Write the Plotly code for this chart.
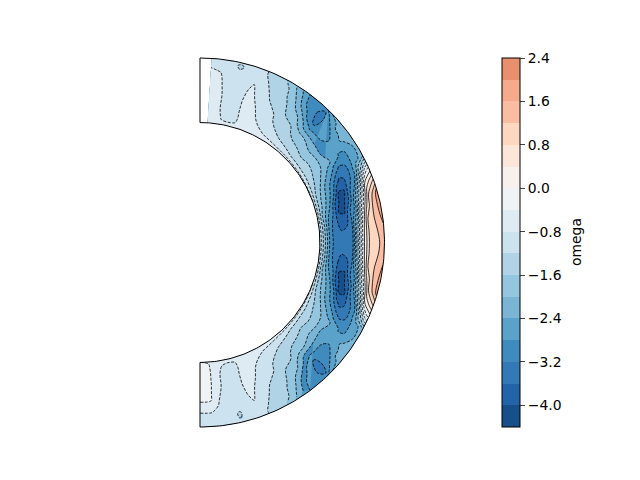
import numpy as np
import plotly.graph_objects as go

radius = [.65,.66,.68,.71,.74,.77,.80,.83,.86,.89,.92,.95,.98,1.0]
latitude = [86.4,83,80,77,74,71,68,64,60,56,52,48,46,44,40,36,32,28,24,20,16,12,8,4,0,
            -4,-8,-12,-16,-20,-24,-28,-32,-36,-40,-44,-46,-48,-52,-56,-60,-64,-68,-71,-74,-77,-80,-83,-86,-90]
omega = [
[-.60,-.60,-.60,-.60,-.60,-.60,-.60,-.62,-.65,-.68,-.72,-.80,-.92,-.95],
[-.65,-.68,-.68,-.70,-.72,-.72,-.72,-.72,-.74,-.75,-.78,-.85,-.95,-.95],
[-.65,-.75,-.82,-.86,-.88,-.88,-.88,-.90,-.92,-.95,-.98,-1.00,-1.05,-1.05],
[-.65,-.76,-.85,-.90,-.92,-.93,-.94,-.95,-.98,-1.02,-1.06,-1.15,-1.27,-1.12],
[-.65,-.75,-.82,-.85,-.85,-.85,-.85,-.88,-.90,-.95,-1.00,-1.05,-1.10,-1.10],
[-.60,-.62,-.70,-.68,-.62,-.60,-.60,-.62,-.68,-.75,-.85,-1.00,-1.10,-1.10],
[-.55,-.58,-.62,-.65,-.70,-.75,-.80,-.90,-1.00,-1.05,-1.10,-1.15,-1.20,-1.20],
[-.55,-.60,-.70,-.80,-.90,-.95,-1.00,-1.10,-1.20,-1.25,-1.30,-1.35,-1.40,-1.45],
[-.55,-.65,-.80,-.95,-1.05,-1.15,-1.20,-1.30,-1.35,-1.40,-1.50,-1.55,-1.65,-1.70],
[-.55,-.70,-.90,-1.10,-1.25,-1.40,-1.50,-1.60,-1.70,-1.80,-1.95,-2.10,-2.25,-2.40],
[-.55,-.75,-1.00,-1.25,-1.40,-1.50,-1.60,-1.80,-2.00,-2.30,-2.65,-2.90,-3.00,-3.00],
[-.55,-.80,-1.10,-1.35,-1.55,-1.75,-1.95,-2.35,-2.60,-3.10,-3.18,-3.20,-3.10,-2.95],
[-.55,-.82,-1.15,-1.40,-1.60,-1.80,-2.00,-2.45,-2.90,-3.25,-3.30,-3.30,-3.25,-2.80],
[-.60,-.85,-1.20,-1.45,-1.65,-1.85,-2.05,-2.50,-2.85,-3.05,-3.12,-3.10,-2.75,-2.40],
[-.60,-.90,-1.25,-1.55,-1.80,-2.00,-2.25,-2.55,-2.80,-2.95,-2.80,-2.45,-2.25,-2.15],
[-.60,-.95,-1.30,-1.50,-1.70,-1.95,-2.25,-2.78,-2.65,-2.60,-2.45,-2.35,-2.25,-2.20],
[-.65,-1.00,-1.30,-1.55,-1.80,-2.00,-2.20,-2.40,-2.60,-2.85,-2.85,-2.60,-2.40,-2.25],
[-.70,-1.05,-1.40,-1.70,-2.00,-2.35,-2.65,-3.05,-3.35,-3.20,-2.85,-2.60,-2.30,-2.00],
[-.75,-1.10,-1.55,-1.95,-2.40,-2.80,-3.30,-3.75,-3.55,-3.20,-2.75,-1.60,-.60,-.35],
[-.80,-1.20,-1.75,-2.20,-2.60,-3.15,-4.02,-4.02,-3.30,-2.80,-1.50,.00,.55,.85],
[-.90,-1.25,-1.85,-2.40,-2.95,-3.85,-4.20,-3.80,-3.00,-1.80,-.50,.80,1.40,1.85],
[-.90,-1.30,-2.05,-2.75,-3.25,-4.00,-4.05,-3.25,-2.70,-1.00,.30,1.10,1.55,1.85],
[-.90,-1.30,-2.00,-3.00,-3.40,-3.80,-3.75,-3.25,-2.00,-.40,.85,1.15,1.50,1.70],
[-.90,-1.30,-2.00,-3.05,-3.45,-3.55,-3.45,-3.20,-1.50,-.10,.85,1.05,1.35,1.50],
[-.90,-1.30,-2.00,-3.05,-3.40,-3.50,-3.40,-3.20,-1.50,-.05,.85,1.00,1.25,1.35],
[-.90,-1.30,-2.00,-3.05,-3.45,-3.55,-3.45,-3.20,-1.50,-.10,.85,1.05,1.30,1.45],
[-.90,-1.30,-2.00,-3.00,-3.40,-3.80,-3.75,-3.25,-2.00,-.40,.85,1.15,1.45,1.65],
[-.90,-1.30,-2.05,-2.75,-3.25,-4.00,-4.05,-3.25,-2.70,-1.00,.30,1.10,1.50,1.80],
[-.90,-1.25,-1.85,-2.40,-2.95,-3.85,-4.20,-3.80,-3.00,-1.80,-.50,.80,1.40,1.80],
[-.80,-1.20,-1.75,-2.20,-2.60,-3.15,-4.02,-4.02,-3.30,-2.80,-1.50,.00,.55,.85],
[-.75,-1.10,-1.55,-1.95,-2.40,-2.80,-3.30,-3.75,-3.55,-3.20,-2.75,-1.60,-.60,-.35],
[-.70,-1.05,-1.40,-1.70,-2.00,-2.35,-2.65,-3.05,-3.35,-3.20,-2.85,-2.60,-2.30,-2.00],
[-.65,-1.00,-1.30,-1.55,-1.80,-2.00,-2.20,-2.40,-2.60,-2.85,-2.85,-2.60,-2.40,-2.25],
[-.60,-.95,-1.30,-1.50,-1.70,-1.95,-2.25,-2.78,-2.65,-2.60,-2.45,-2.35,-2.25,-2.20],
[-.60,-.90,-1.25,-1.55,-1.80,-2.00,-2.25,-2.55,-2.80,-2.95,-2.80,-2.45,-2.25,-2.15],
[-.60,-.85,-1.20,-1.45,-1.65,-1.85,-2.05,-2.50,-2.85,-3.05,-3.12,-3.10,-2.75,-2.40],
[-.55,-.82,-1.15,-1.40,-1.60,-1.80,-2.00,-2.45,-2.90,-3.25,-3.30,-3.30,-3.25,-2.80],
[-.55,-.80,-1.10,-1.35,-1.55,-1.75,-1.95,-2.35,-2.60,-3.10,-3.18,-3.20,-3.10,-2.95],
[-.55,-.75,-1.00,-1.25,-1.40,-1.50,-1.60,-1.80,-2.00,-2.30,-2.65,-2.90,-3.00,-3.00],
[-.55,-.70,-.90,-1.10,-1.25,-1.40,-1.50,-1.60,-1.70,-1.80,-1.95,-2.10,-2.25,-2.40],
[-.55,-.65,-.80,-.95,-1.05,-1.15,-1.20,-1.30,-1.35,-1.40,-1.50,-1.55,-1.65,-1.70],
[-.55,-.60,-.70,-.80,-.90,-.95,-1.00,-1.10,-1.20,-1.25,-1.30,-1.35,-1.40,-1.45],
[-.55,-.58,-.62,-.65,-.70,-.75,-.80,-.90,-1.00,-1.05,-1.10,-1.15,-1.20,-1.20],
[-.60,-.62,-.70,-.68,-.62,-.60,-.60,-.62,-.68,-.75,-.85,-1.00,-1.10,-1.10],
[-.65,-.75,-.82,-.85,-.85,-.85,-.85,-.88,-.90,-.95,-1.00,-1.05,-1.10,-1.10],
[-.65,-.76,-.85,-.90,-.92,-.93,-.94,-.95,-.98,-1.02,-1.08,-1.25,-1.21,-1.12],
[-.65,-.72,-.80,-.85,-.86,-.86,-.86,-.88,-.92,-.95,-.98,-1.00,-1.05,-1.05],
[-.60,-.65,-.70,-.72,-.74,-.74,-.76,-.78,-.80,-.85,-.90,-.92,-.95,-.95],
[-.45,-.40,-.35,-.32,-.32,-.32,-.34,-.36,-.40,-.60,-.78,-.90,-.95,-1.00],
[-.40,-.35,-.30,-.30,-.30,-.30,-.30,-.32,-.36,-.58,-.78,-.90,-.95,-1.00],
]

levels_start = -4.0
levels_end = 2.0
levels_step = 0.4
band_colors = ["#174f8a","#2364a8","#3279b5","#3f8bbe","#5aa2c9","#7ab5d6","#95c6e0","#b0d3e6","#cce2ef",
               "#dfebf2","#eff3f5","#f8f0ec","#fce5d9","#fdd7c0","#fabda4","#f5aa8b","#e88f6e"]
bar_ticks = [-4.0,-3.2,-2.4,-1.6,-0.8,0.0,0.8,1.6,2.4]

OFF = 8                              # the page body margin pushes the figure by this many pixels
W, H = 640 - OFF, 480 - OFF
cx, cy, R = 200.0 - OFF, 242.5 - OFF, 184.5      # pixel centre and outer radius of the shell
x_pad = 0.03
x0_px, x1_px = cx - x_pad*R, cx + (1+x_pad)*R
y_top_px, y_bot_px = cy - (1+x_pad)*R, cy + (1+x_pad)*R

r = np.array(radius); lat = np.radians(latitude)
colat = [90 - v for v in latitude]   # ascending, as the carpet needs
X = np.outer(np.cos(lat), r)
Y = np.outer(np.sin(lat), r)

n = len(band_colors)
cs = []
for i, c in enumerate(band_colors):
    cs += [[i/n, c], [(i+1)/n, c]]
black = [[0, "black"], [1, "black"]]

ax_hide = dict(showgrid=False, minorgridcount=0, showticklabels="none", showline=False,
               startline=False, endline=False, smoothing=0)

fig = go.Figure()
fig.add_trace(go.Carpet(a=radius, b=colat, x=X, y=Y, carpet="shell", aaxis=ax_hide, baxis=ax_hide,
                        xaxis="x", yaxis="y"))
fig.add_trace(go.Contourcarpet(a=radius, b=colat, z=omega, carpet="shell", showlegend=False,
    autocontour=False, zmin=-4.4, zmax=2.4, colorscale=cs,
    contours=dict(start=levels_start, end=levels_end, size=levels_step, coloring="fill", showlines=False),
    line=dict(width=0),
    colorbar=dict(thickness=18, thicknessmode="pixels", len=369/H, lenmode="fraction",
                  x=(502-OFF)/W, xanchor="left", y=1-(58-OFF)/H, yanchor="top", xpad=0, ypad=0,
                  outlinecolor="black", outlinewidth=1, ticks="outside", ticklen=5, tickwidth=1,
                  tickvals=bar_ticks, tickformat=".1f", tickprefix="\u2009",
                  tickfont=dict(family="DejaVu Sans", size=13.9, color="black"))))
fig.add_trace(go.Contourcarpet(a=radius, b=colat, z=omega, carpet="shell", showscale=False, showlegend=False,
    autocontour=False, colorscale=black, contours=dict(start=levels_start, end=-0.4, size=levels_step, coloring="lines"),
    line=dict(width=0.8, dash="3px,1.5px")))
fig.add_trace(go.Contourcarpet(a=radius, b=colat, z=omega, carpet="shell", showscale=False, showlegend=False,
    autocontour=False, colorscale=black, contours=dict(start=0.0, end=levels_end, size=levels_step, coloring="lines"),
    line=dict(width=0.8)))

# plotly closes the fills with straight chords along the outer wall towards the south corner;
# each entry is (latitude where the contour meets the wall, latitude where its band ends, band index)
chord_gaps = [(-68.0, -90.0, 8), (-61.6, -68.0, 7), (-58.3, -61.6, 6), (-56.0, -58.3, 5), (-53.3, -56.0, 4)]
for wall_lat, end_lat, band in chord_gaps:
    pt = np.radians(np.linspace(wall_lat, end_lat, 40))
    half = np.radians((wall_lat + 90) / 2)
    mid = np.radians((wall_lat - 90) / 2)
    r_in = np.cos(half) / np.cos(pt - mid) - 0.004
    fig.add_trace(go.Scatter(x=np.concatenate([np.cos(pt), (r_in*np.cos(pt))[::-1]]),
                             y=np.concatenate([np.sin(pt), (r_in*np.sin(pt))[::-1]]),
                             mode="lines", fill="toself", fillcolor=band_colors[band], line=dict(width=0),
                             hoverinfo="skip", showlegend=False))

t = np.radians(np.linspace(90, -90, 181))
fx = np.concatenate([np.cos(t), .65*np.cos(t[::-1]), [0]])
fy = np.concatenate([np.sin(t), .65*np.sin(t[::-1]), [1]])
fig.add_trace(go.Scatter(x=fx, y=fy, mode="lines", line=dict(color="black", width=1), hoverinfo="skip", showlegend=False))

fig.update_layout(width=W, height=H, margin=dict(l=0, r=0, t=0, b=0), paper_bgcolor="white", plot_bgcolor="white",
    showlegend=False,
    xaxis=dict(visible=False, range=[-x_pad, 1+x_pad], domain=[x0_px/W, x1_px/W]),
    yaxis=dict(visible=False, range=[-1-x_pad, 1+x_pad], domain=[1-y_bot_px/H, 1-y_top_px/H]),
    annotations=[dict(text="omega", textangle=-90, xref="paper", yref="paper", x=(575.5-OFF)/W, y=1-(242.5-OFF)/H,
                      xanchor="center", yanchor="middle", showarrow=False,
                      font=dict(family="DejaVu Sans", size=13.9, color="black"))])
fig.write_html("out.html")
